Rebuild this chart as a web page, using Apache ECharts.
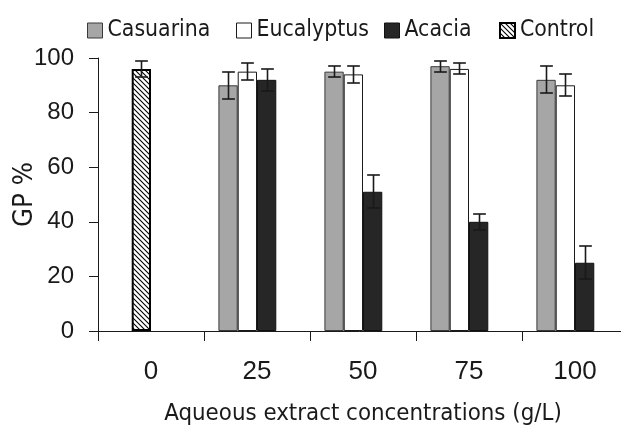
<!DOCTYPE html>
<html><head><meta charset="utf-8">
<script src="https://cdn.jsdelivr.net/npm/echarts@6/dist/echarts.min.js"></script>
<style>html,body{margin:0;padding:0;background:#fff}#c{width:621px;height:433px}</style>
</head><body><div id="c"></div>
<script>
// ---- data ----
const categories = ['0', '25', '50', '75', '100'];
const casuarina = [null, 90, 95, 97, 92];
const casuarinaErr = [null, 5, 2, 2, 5];
const eucalyptus = [null, 95, 94, 96, 90];
const eucalyptusErr = [null, 3, 3, 2, 4];
const acacia = [null, 92, 51, 40, 25];
const acaciaErr = [null, 4, 6, 3, 6];
const control = [96, null, null, null, null];
const controlErr = [3, null, null, null, null];
const emptySlot = [null, null, null, null, null];
const yMin = 0, yMax = 100, yInterval = 20;
const xName = 'Aqueous extract concentrations (g/L)';
const yName = 'GP %';

// ---- style ----
const BAR_FRAC = 0.182;
const INK = '#1a1a1a';

function hasFont(f) {
  const g = document.createElement('canvas').getContext('2d');
  const s = 'Casuarina Eucalyptus 0123456789';
  g.font = '40px monospace';
  const w0 = g.measureText(s).width;
  g.font = '40px "' + f + '", monospace';
  return Math.abs(g.measureText(s).width - w0) > 0.5;
}
const narrowCandidates = ['Liberation Sans Narrow', 'Arial Narrow', 'DejaVu Sans Condensed', 'Liberation Sans'];
const NARROW_NAME = narrowCandidates.find(hasFont) || 'sans-serif';
const NARROW = '"' + NARROW_NAME + '", sans-serif';
const SANS = '"Liberation Sans", Arial, sans-serif';
function fitSize(text, family, target) {
  const g = document.createElement('canvas').getContext('2d');
  g.font = '100px ' + family;
  return Math.round(100 * target / g.measureText(text).width * 10) / 10;
}
const legendSize = Math.min(27, fitSize('Casuarina', NARROW, 103));
const xNameSize = Math.min(29, fitSize(xName, NARROW, 397));
const yNameSize = Math.min(30, fitSize(yName, NARROW, 65));

function hatchCanvas() {
  const c = document.createElement('canvas');
  c.width = 5; c.height = 5;
  const g = c.getContext('2d');
  g.fillStyle = '#fff'; g.fillRect(0, 0, 5, 5);
  g.strokeStyle = '#000'; g.lineWidth = 1.1;
  g.beginPath();
  g.moveTo(-1, -1); g.lineTo(6, 6);
  g.moveTo(-1, 4); g.lineTo(1, 6);
  g.moveTo(4, -1); g.lineTo(6, 1);
  g.stroke();
  return c;
}
const hatch = { image: hatchCanvas(), repeat: 'repeat' };

const styles = {
  Casuarina: { color: '#a6a6a6', borderColor: '#3a3a3a', borderWidth: 1 },
  Eucalyptus: { color: '#ffffff', borderColor: '#1a1a1a', borderWidth: 1 },
  Acacia: { color: '#262626', borderColor: '#111111', borderWidth: 1 },
  Control: { color: hatch, borderColor: '#000000', borderWidth: 2 }
};

// error bar records built from arrays: [categoryIndex, mean, err, slot]
const errData = [];
[[casuarina, casuarinaErr, 0], [eucalyptus, eucalyptusErr, 1], [acacia, acaciaErr, 2], [control, controlErr, 1]]
  .forEach(([m, e, s]) => m.forEach((v, i) => { if (v != null) errData.push([i, v, e[i], s]); }));

function renderErr(params, api) {
  const cat = api.value(0), mean = api.value(1), err = api.value(2), slot = api.value(3);
  const catW = api.size([1, 0])[0];
  const bw = catW * BAR_FRAC;
  const cx = Math.round(api.coord([cat, mean])[0] + (slot - 1.5) * bw) + 0.5;
  const yt = Math.round(api.coord([cat, mean + err])[1]);
  const yb = Math.round(api.coord([cat, mean - err])[1]);
  const cap = bw * 0.33;
  const st = { stroke: INK, lineWidth: 1.6 };
  return {
    type: 'group',
    children: [
      { type: 'line', shape: { x1: cx, y1: yt, x2: cx, y2: yb }, style: st },
      { type: 'line', shape: { x1: cx - cap, y1: yt, x2: cx + cap, y2: yt }, style: st },
      { type: 'line', shape: { x1: cx - cap, y1: yb, x2: cx + cap, y2: yb }, style: st }
    ]
  };
}

const legendText = { fontFamily: NARROW, fontSize: legendSize, color: INK };
function legendFor(name, left) {
  return {
    left: left, top: 19, padding: 0, itemWidth: 15, itemHeight: 15, itemGap: 0,
    icon: 'rect', textStyle: legendText, selectedMode: false,
    data: [{ name: name, itemStyle: styles[name] }]
  };
}

const barW = (BAR_FRAC * 100) + '%';
const chart = echarts.init(document.getElementById('c'), null, { renderer: 'canvas' });
chart.setOption({
  animation: false,
  backgroundColor: '#fff',
  legend: [
    legendFor('Casuarina', 87),
    legendFor('Eucalyptus', 236),
    legendFor('Acacia', 384),
    legendFor('Control', 499)
  ],
  grid: { left: 98, right: -7, top: 58, bottom: 102, containLabel: false, outerBoundsMode: 'none' },
  xAxis: [{
    type: 'category', data: categories,
    name: xName, nameLocation: 'middle', nameGap: 71, nameMoveOverlap: false,
    nameTextStyle: { fontFamily: NARROW, fontSize: xNameSize, color: INK },
    axisLine: { lineStyle: { color: INK, width: 1 } },
    axisTick: { show: true, length: 10, lineStyle: { color: INK } },
    axisLabel: { margin: 28, fontFamily: SANS, fontSize: 26, color: INK }
  }, {
    type: 'category', data: categories, show: false, position: 'bottom'
  }],
  yAxis: {
    type: 'value', min: yMin, max: yMax, interval: yInterval,
    name: yName, nameLocation: 'middle', nameGap: 60, nameRotate: 90, nameMoveOverlap: false,
    nameTextStyle: { fontFamily: NARROW, fontSize: yNameSize, color: INK },
    axisLine: { show: true, lineStyle: { color: INK, width: 1 } },
    axisTick: { show: true, length: 9, lineStyle: { color: INK } },
    splitLine: { show: false },
    axisLabel: { margin: 24, fontFamily: SANS, fontSize: 24, color: INK }
  },
  series: [
    { name: 'Casuarina', type: 'bar', data: casuarina, barWidth: barW, barGap: '0%', itemStyle: styles.Casuarina },
    { name: 'Eucalyptus', type: 'bar', data: eucalyptus, barWidth: barW, barGap: '0%', itemStyle: styles.Eucalyptus },
    { name: 'Acacia', type: 'bar', data: acacia, barWidth: barW, barGap: '0%', itemStyle: styles.Acacia },
    { name: 'slot4', type: 'bar', data: emptySlot, barWidth: barW, barGap: '0%' },
    { name: 'Control', type: 'bar', xAxisIndex: 1, data: control, barWidth: barW, barGap: '0%', itemStyle: styles.Control },
    { name: 'slot2', type: 'bar', xAxisIndex: 1, data: emptySlot, barWidth: barW, barGap: '0%' },
    {
      name: 'errors', type: 'custom', data: errData, renderItem: renderErr,
      encode: { x: 0, y: 1 }, z: 10, silent: true
    }
  ]
});
</script></body></html>
